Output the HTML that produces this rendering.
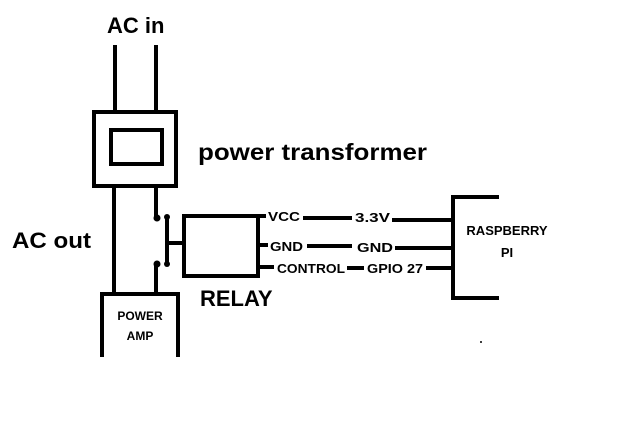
<!DOCTYPE html>
<html><head><style>body{margin:0;background:#fff}</style></head><body>
<svg width="620" height="432" xmlns="http://www.w3.org/2000/svg" style="display:block">
<rect width="620" height="432" fill="#fff"/>
<g stroke="#000" stroke-width="4" fill="none" stroke-linecap="butt">
<line x1="115" y1="45" x2="115" y2="111"/>
<line x1="156" y1="45" x2="156" y2="111"/>
<rect x="94" y="112" width="82" height="74"/>
<rect x="111" y="130" width="51" height="34"/>
<line x1="114" y1="186" x2="114" y2="294"/>
<line x1="156" y1="186" x2="156" y2="218"/>
<line x1="156" y1="264" x2="156" y2="294"/>
<line x1="167" y1="217" x2="167" y2="264"/>
<line x1="167" y1="243" x2="183" y2="243"/>
<rect x="184" y="216" width="74" height="60"/>
<line x1="101" y1="294" x2="179" y2="294"/>
<line x1="102" y1="292" x2="102" y2="357"/>
<line x1="178" y1="292" x2="178" y2="357"/>
<line x1="258" y1="216" x2="266" y2="216"/>
<line x1="258" y1="245" x2="268" y2="245"/>
<line x1="258" y1="267" x2="274" y2="267"/>
<line x1="303" y1="218" x2="352" y2="218"/>
<line x1="392" y1="220" x2="453" y2="220"/>
<line x1="307" y1="246" x2="352" y2="246"/>
<line x1="395" y1="248" x2="453" y2="248"/>
<line x1="347" y1="268" x2="364" y2="268"/>
<line x1="426" y1="268" x2="453" y2="268"/>
<line x1="453" y1="195" x2="453" y2="300"/>
<line x1="451" y1="197" x2="499" y2="197"/>
<line x1="451" y1="298" x2="499" y2="298"/>
</g>
<g fill="#000">
<circle cx="157" cy="218" r="3.5"/><circle cx="167" cy="217" r="3"/>
<circle cx="157" cy="264" r="3.5"/><circle cx="167" cy="264" r="3"/>
<circle cx="481" cy="342" r="1"/>
</g>
<g font-family="Liberation Sans, sans-serif" font-weight="bold" fill="#000">
<text x="107" y="33" font-size="22">AC in</text>
<text x="198" y="160" font-size="23" textLength="229" lengthAdjust="spacingAndGlyphs">power transformer</text>
<text x="12" y="248" font-size="22" textLength="79" lengthAdjust="spacingAndGlyphs">AC out</text>
<text x="200" y="306" font-size="22">RELAY</text>
<text x="140" y="320" font-size="12" text-anchor="middle">POWER</text>
<text x="140" y="340" font-size="12" text-anchor="middle">AMP</text>
<text x="268" y="221" font-size="13" textLength="32" lengthAdjust="spacingAndGlyphs">VCC</text>
<text x="355" y="222" font-size="13" textLength="35" lengthAdjust="spacingAndGlyphs">3.3V</text>
<text x="270" y="251" font-size="13" textLength="33" lengthAdjust="spacingAndGlyphs">GND</text>
<text x="357" y="252" font-size="13" textLength="36" lengthAdjust="spacingAndGlyphs">GND</text>
<text x="277" y="273" font-size="13" textLength="68" lengthAdjust="spacingAndGlyphs">CONTROL</text>
<text x="367" y="273" font-size="13" textLength="56" lengthAdjust="spacingAndGlyphs">GPIO 27</text>
<text x="507" y="235" font-size="13" text-anchor="middle">RASPBERRY</text>
<text x="507" y="257" font-size="13" text-anchor="middle">PI</text>
</g>
</svg>
</body></html>
